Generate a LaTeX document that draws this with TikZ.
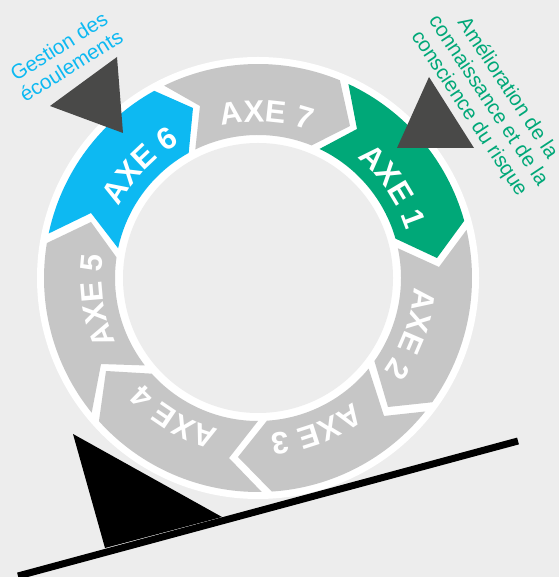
\documentclass[tikz,border=0pt]{standalone}
\usepackage{fontspec}
\setmainfont{Liberation Sans}
\usetikzlibrary{decorations.text}
\definecolor{bgc}{HTML}{EDEDED}
\definecolor{grayseg}{HTML}{C6C6C6}
\definecolor{blueseg}{HTML}{0DB9F2}
\definecolor{greenseg}{HTML}{00A878}
\definecolor{darktri}{HTML}{494948}
\tikzset{
  ringseg/.style={line join=miter},
  marker/.style={fill=darktri},
  caption/.style={font=\fontsize{20.6}{23}\selectfont,align=center,inner sep=0pt},
}
\newcommand{\axefont}{\fontsize{31}{31}\selectfont\bfseries}
% colour, outer start, notch, inner start, inner end, tip, outer end
\newcommand{\axeseg}[7]{%
  \fill[#1,ringseg] (#2:214pt) -- (#3) -- (#4:143pt)
    arc[start angle=#4,end angle=#5,radius=143pt] -- (#6) -- (#7:214pt)
    arc[start angle=#7,end angle=#2,radius=214pt] -- cycle;}
\newcommand{\axelabel}[2]{%
  \path[decorate,decoration={text along path,text align=center,
    text={|\axefont\color{white}|#2}}]
    (#1+45:156pt) arc[start angle=#1+45,end angle=#1-45,radius=156pt];}
\begin{document}
\begin{tikzpicture}[x=1pt,y=1pt]
\useasboundingbox (0,0) rectangle (559,577);
\fill[bgc] (0,0) rectangle (559,577);
\begin{scope}[shift={(258,299)}]
  \fill[white] (0,0) circle[radius=221pt];
  \fill[bgc] (0,0) circle[radius=135pt];
  \axeseg{blueseg}{168}{-167,65}{168}{119}{-65,170}{119}
  \axeseg{grayseg}{116}{-58,172}{116}{68}{92,152}{67.5}
  \axeseg{greenseg}{65}{99,149}{64.5}{16}{179,20}{15.5}
  \axeseg{grayseg}{13}{181,11}{12}{-35.5}{130,-129}{-35.5}
  \axeseg{grayseg}{-38.6}{126,-138}{-39.3}{-86.4}{-20,-179}{-86.3}
  \axeseg{grayseg}{-89}{-29,-180}{-90}{-138}{-152,-93}{-138}
  \axeseg{grayseg}{-141}{-157,-86}{-142.3}{-188.3}{-167,56}{-189.4}
  \axelabel{136.5}{AXE 6}
  \axelabel{87}{AXE 7}
  \axelabel{34}{AXE 1}
  \axelabel{-20}{AXE 2}
  \axelabel{-69}{AXE 3}
  \axelabel{-121}{AXE 4}
  \axelabel{-172}{AXE 5}
\end{scope}
% dark triangles
\fill[marker] (117,520) -- (50,471) -- (123,444) -- cycle;
\fill[marker] (429,500) -- (397,429) -- (474,429) -- cycle;
% black wedge and beam
\fill[black] (73,143) -- (222,60) -- (105,29) -- cycle;
\draw[black,line width=7pt] (18,1) -- (518,136);
% captions
\node[caption,text=blueseg,rotate=32] (gestion) at (65,521) {Gestion des\\écoulements};
\node[caption,text=greenseg,rotate=-56.5] (amelioration) at (488,476) {Amélioration de la\\connaissance et de la\\conscience du risque};
\end{tikzpicture}
\end{document}
